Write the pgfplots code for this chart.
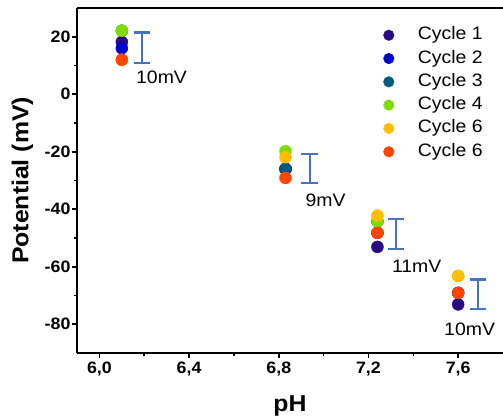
\documentclass[border=0pt]{standalone}
\usepackage{fontspec}
\setmainfont[FakeStretch=1.08]{Liberation Sans}
\usepackage{pgfplots}
\pgfplotsset{compat=1.18}
\definecolor{cA}{HTML}{2A0A80}
\definecolor{cB}{HTML}{0000CD}
\definecolor{cC}{HTML}{005A7D}
\definecolor{cD}{HTML}{80DC00}
\definecolor{cE}{HTML}{FFBE00}
\definecolor{cF}{HTML}{FF4500}
\definecolor{cBar}{HTML}{4472C4}
\begin{document}
\begin{tikzpicture}
\begin{axis}[
  at={(0,0)}, anchor=south west,
  scale only axis, width=426bp, height=345bp,
  xmin=5.9, xmax=7.8, ymin=-90, ymax=30,
  axis x line*=box, axis y line*=left,
  axis line style={line width=2.6bp, black},
  xtick={6.0,6.4,6.8,7.2,7.6},
  xticklabels={{6,0},{6,4},{6,8},{7,2},{7,6}},
  ytick={-80,-60,-40,-20,0,20},
  yticklabels={-80,-60,-40,-20,0,20},
  minor x tick num=1, minor y tick num=1,
  xtick pos=bottom, ytick pos=left,
  tick align=outside,
  major tick length=5bp, minor tick length=3bp,
  every tick/.style={line width=1.6bp, black},
  ticklabel style={font=\fontsize{16.5bp}{18bp}\selectfont\bfseries},
  yticklabel style={anchor=east, xshift=2bp},
  xlabel={pH}, ylabel={Potential (mV)},
  every axis y label/.style={at={(axis description cs:-0.128,0.5)}, rotate=90, anchor=center, font=\fontsize{23bp}{26bp}\selectfont\bfseries},
  every axis x label/.style={at={(axis description cs:0.5,-0.170)}, anchor=base, font=\fontsize{23bp}{26bp}\selectfont\bfseries},
  clip=false,
  unbounded coords=jump,
  legend style={at={(axis description cs:0.712,0.952)}, anchor=north west, draw=none, fill=none,
    font=\fontsize{18bp}{20bp}\selectfont, row sep=6.3bp, column sep=0pt,
    nodes={inner sep=0pt, text height=13bp, text depth=4bp}},
  legend cell align=left,
  legend image code/.code={\draw plot[mark size=5.3bp] coordinates {(0bp,0bp)}; \path[draw=none] (-5.3bp,0bp) -- (29bp,0bp);},
]
\addplot[only marks, mark=*, mark size=6bp, color=cA] coordinates {(6.10,18.2) (6.83,-26.0) (7.24,-53.1) (7.60,-73.1)};
\addlegendentry{Cycle 1}
\addplot[only marks, mark=*, mark size=6bp, color=cB] coordinates {(6.10,16.0) (6.83,-26.0) (7.24,-48.2) (7.60,-69.1)};
\addlegendentry{Cycle 2}
\addplot[only marks, mark=*, mark size=6bp, color=cC] coordinates {(6.10,22.1) (6.83,-25.9) (7.24,-44.2) (7.60,-69.1)};
\addlegendentry{Cycle 3}
\addplot[only marks, mark=*, mark size=6bp, color=cD] coordinates {(6.10,22.1) (6.83,-19.8) (7.24,-44.2) (7.60,-63.2)};
\addlegendentry{Cycle 4}
\addplot[only marks, mark=*, mark size=6bp, color=cE] coordinates {(6.10,12.0) (6.83,-21.9) (7.24,-42.2) (7.60,-63.2)};
\addlegendentry{Cycle 6}
\addplot[only marks, mark=*, mark size=6bp, color=cF] coordinates {(6.10,12.0) (6.83,-29.1) (7.24,-48.2) (7.60,-69.1)};
\addlegendentry{Cycle 6}
\addplot[cBar, line width=2.2bp, forget plot] coordinates {
  (6.153,21.5) (6.227,21.5) (nan,nan)
  (6.190,21.5) (6.190,11.0) (nan,nan)
  (6.153,11.0) (6.227,11.0) (nan,nan)
  (6.901,-20.7) (6.975,-20.7) (nan,nan)
  (6.938,-20.7) (6.938,-30.9) (nan,nan)
  (6.901,-30.9) (6.975,-30.9) (nan,nan)
  (7.286,-43.4) (7.360,-43.4) (nan,nan)
  (7.323,-43.4) (7.323,-53.9) (nan,nan)
  (7.286,-53.9) (7.360,-53.9) (nan,nan)
  (7.652,-64.4) (7.726,-64.4) (nan,nan)
  (7.689,-64.4) (7.689,-74.7) (nan,nan)
  (7.652,-74.7) (7.726,-74.7)
};
\node[font=\fontsize{18bp}{20bp}\selectfont, inner sep=0pt] at (axis cs:6.277,5.8) {10mV};
\node[font=\fontsize{18bp}{20bp}\selectfont, inner sep=0pt] at (axis cs:7.009,-37.0) {9mV};
\node[font=\fontsize{18bp}{20bp}\selectfont, inner sep=0pt] at (axis cs:7.415,-60.0) {11mV};
\node[font=\fontsize{18bp}{20bp}\selectfont, inner sep=0pt] at (axis cs:7.651,-81.6) {10mV};
\end{axis}
\pgfresetboundingbox
\path (-77bp,-67bp) rectangle (426bp,353bp);
\end{tikzpicture}
\end{document}
